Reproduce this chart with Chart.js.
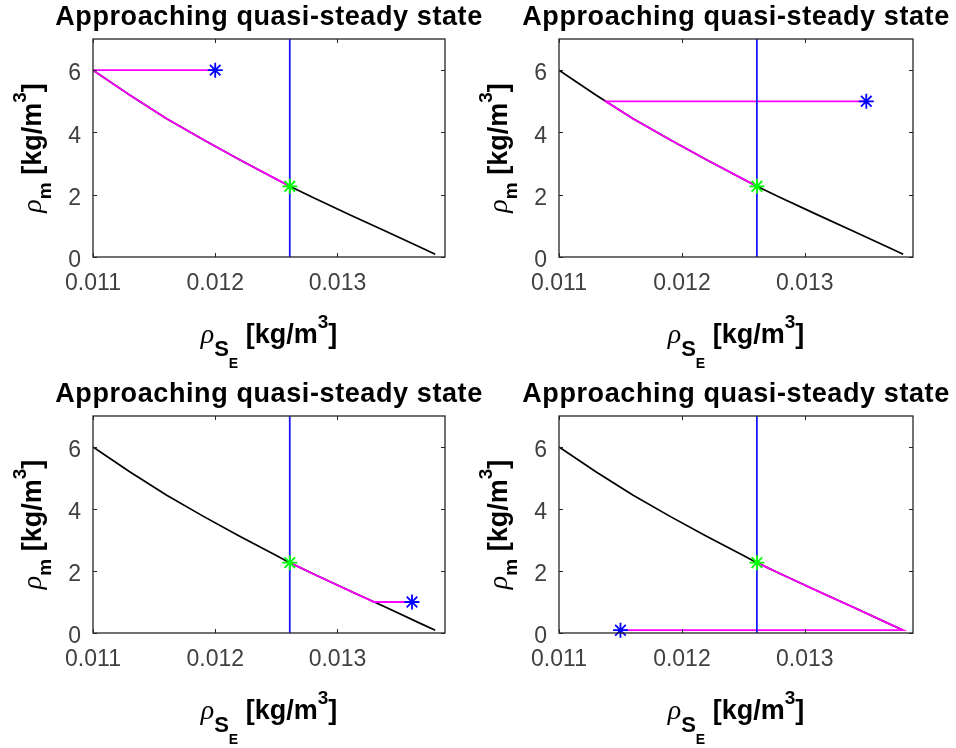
<!DOCTYPE html>
<html>
<head>
<meta charset="utf-8">
<script src="https://cdn.jsdelivr.net/npm/chart.js@4.4.1/dist/chart.umd.min.js"></script>
<style>
body { margin: 0; background: #fff; }
#wrap { position: relative; width: 956px; height: 748px; }
#wrap canvas { position: absolute; left: 0; top: 0; }
</style>
</head>
<body>
<div id="wrap">
  <canvas id="c0" width="956" height="748"></canvas>
  <canvas id="c1" width="956" height="748"></canvas>
  <canvas id="c2" width="956" height="748"></canvas>
  <canvas id="c3" width="956" height="748"></canvas>
</div>
<script>
// --- data ---
var TITLE = 'Approaching quasi-steady state';
var X_MIN = 0.011, X_MAX = 0.01388;
var Y_MIN = 0, Y_MAX = 7;
var X_TICKS = [0.011, 0.012, 0.013];
var X_TICK_LABELS = ['0.011', '0.012', '0.013'];
var Y_TICKS = [0, 2, 4, 6];
var Y_TICK_LABELS = ['0', '2', '4', '6'];

// black curve (rho_m vs rho_SE)
var curveX = [0.011, 0.0113, 0.0116, 0.0119, 0.0122, 0.0125, 0.01261, 0.0128, 0.0131, 0.0134, 0.0137, 0.0138];
var curveY = [6.0, 5.2, 4.45, 3.77, 3.12, 2.5, 2.27, 1.91, 1.36, 0.82, 0.27, 0.09];

// quasi-steady point (green star) and blue vertical line
var steadyX = 0.01261;
var steadyY = 2.27;

// starting points (blue stars), one per panel
var startX = [0.012, 0.0135, 0.01361, 0.0115];
var startY = [6.0, 5.0, 1.0, 0.09];

// magenta trajectories, one per panel
var path1X = [0.012, 0.011, 0.0113, 0.0116, 0.0119, 0.0122, 0.0125, 0.01261];
var path1Y = [6.0, 6.0, 5.2, 4.45, 3.77, 3.12, 2.5, 2.27];
var path2X = [0.0135, 0.01138, 0.0116, 0.0119, 0.0122, 0.0125, 0.01261];
var path2Y = [5.0, 5.0, 4.45, 3.77, 3.12, 2.5, 2.27];
var path3X = [0.01361, 0.0133, 0.0131, 0.0128, 0.01261];
var path3Y = [1.0, 1.0, 1.36, 1.91, 2.27];
var path4X = [0.0115, 0.0138, 0.0137, 0.0134, 0.0131, 0.0128, 0.01261];
var path4Y = [0.09, 0.09, 0.27, 0.82, 1.36, 1.91, 2.27];

var pathsX = [path1X, path2X, path3X, path4X];
var pathsY = [path1Y, path2Y, path3Y, path4Y];

// plot boxes on the page
var boxes = [
  { l: 93,  r: 445, t: 39,  b: 257 },
  { l: 559, r: 913, t: 39,  b: 257 },
  { l: 93,  r: 445, t: 416, b: 633 },
  { l: 559, r: 913, t: 416, b: 633 }
];

var AXIS_COLOR = '#262626';
var MAIN = 'bold 27px "Liberation Sans"';
var SMALL = 'bold 19px "Liberation Sans"';
var RHO = 'italic 28px "Liberation Serif"';

function pts(xs, ys) {
  return xs.map(function (x, i) { return { x: x, y: ys[i] }; });
}

function drawRich(ctx, segs, cx, cy, rotated) {
  ctx.save();
  ctx.translate(cx, cy);
  if (rotated) ctx.rotate(-Math.PI / 2);
  ctx.textAlign = 'left';
  ctx.textBaseline = 'alphabetic';
  ctx.fillStyle = '#000';
  var total = 0;
  segs.forEach(function (s) { ctx.font = s.font; s.w = ctx.measureText(s.text).width; total += s.w; });
  var x = -total / 2;
  segs.forEach(function (s) {
    ctx.font = s.font;
    ctx.fillText(s.text, x, s.dy || 0);
    x += s.w;
  });
  ctx.restore();
}

var axesPlugin = {
  id: 'matlabAxes',
  afterDatasetsDraw: function (chart) {
    var ctx = chart.ctx, a = chart.chartArea;
    var xs = chart.scales.x, ys = chart.scales.y;
    ctx.save();
    ctx.strokeStyle = AXIS_COLOR;
    ctx.lineWidth = 1.3;
    ctx.strokeRect(a.left, a.top, a.right - a.left, a.bottom - a.top);
    // inward ticks on all four sides
    ctx.lineWidth = 1;
    ctx.beginPath();
    X_TICKS.forEach(function (v) {
      var px = Math.round(xs.getPixelForValue(v)) + 0.5;
      ctx.moveTo(px, a.bottom); ctx.lineTo(px, a.bottom - 4);
      ctx.moveTo(px, a.top); ctx.lineTo(px, a.top + 4);
    });
    Y_TICKS.forEach(function (v) {
      var py = Math.round(ys.getPixelForValue(v)) + 0.5;
      ctx.moveTo(a.left, py); ctx.lineTo(a.left + 4, py);
      ctx.moveTo(a.right, py); ctx.lineTo(a.right - 4, py);
    });
    ctx.stroke();
    ctx.restore();
  },
  afterDraw: function (chart) {
    var ctx = chart.ctx, a = chart.chartArea;
    var cx = (a.left + a.right) / 2, cy = (a.top + a.bottom) / 2;
    ctx.save();
    ctx.fillStyle = '#000';
    ctx.font = 'bold 27px "Liberation Sans"';
    ctx.textAlign = 'center';
    ctx.textBaseline = 'alphabetic';
    if ('letterSpacing' in ctx) ctx.letterSpacing = '0.6px';
    ctx.fillText(TITLE, cx, a.top - 14);
    if ('letterSpacing' in ctx) ctx.letterSpacing = '0px';
    ctx.restore();

    drawRich(ctx, [
      { text: '\u03c1', font: RHO },
      { text: 'S', font: 'bold 22px "Liberation Sans"', dy: 13 },
      { text: 'E', font: 'bold 14px "Liberation Sans"', dy: 25 },
      { text: ' [kg/m', font: MAIN },
      { text: '3', font: SMALL, dy: -15 },
      { text: ']', font: MAIN }
    ], cx, a.bottom + 86, false);

    drawRich(ctx, [
      { text: '\u03c1', font: RHO },
      { text: 'm', font: SMALL, dy: 10 },
      { text: ' [kg/m', font: MAIN },
      { text: '3', font: SMALL, dy: -15 },
      { text: ']', font: MAIN }
    ], a.left - 52, cy, true);
  }
};

function makePanel(i) {
  var b = boxes[i];
  var star = function (x, y, color) {
    return {
      data: [{ x: x, y: y }], showLine: false, pointStyle: 'star',
      pointRadius: 7.5, pointBorderWidth: 1.8, pointBorderColor: color,
      pointBackgroundColor: color, clip: false
    };
  };
  var line = function (data, color, w) {
    return {
      data: data, showLine: true, borderColor: color, borderWidth: w,
      pointRadius: 0, tension: 0, fill: false
    };
  };
  new Chart(document.getElementById('c' + i), {
    type: 'scatter',
    data: {
      datasets: [
        star(steadyX, steadyY, '#00ff00'),
        star(startX[i], startY[i], '#0000ff'),
        line(pts([steadyX, steadyX], [Y_MIN, Y_MAX]), '#1a1aff', 1.8),
        line(pts(pathsX[i], pathsY[i]), '#ff00ff', 1.8),
        line(pts(curveX, curveY), '#000000', 1.7)
      ]
    },
    options: {
      responsive: false,
      animation: false,
      devicePixelRatio: 1,
      events: [],
      layout: { padding: { left: b.l - 60, right: 956 - b.r, top: b.t, bottom: 748 - b.b - 40 } },
      plugins: { legend: { display: false }, tooltip: { enabled: false } },
      scales: {
        x: {
          type: 'linear', min: X_MIN, max: X_MAX,
          grid: { display: false, drawTicks: false }, border: { display: false },
          afterBuildTicks: function (s) { s.ticks = X_TICKS.map(function (v) { return { value: v }; }); },
          afterFit: function (s) { s.height = 40; },
          ticks: {
            padding: 13, color: '#404040', maxRotation: 0, autoSkip: false,
            font: { family: 'Liberation Sans', size: 23 },
            callback: function (v, idx) { return X_TICK_LABELS[idx]; }
          }
        },
        y: {
          type: 'linear', min: Y_MIN, max: Y_MAX,
          grid: { display: false, drawTicks: false }, border: { display: false },
          afterBuildTicks: function (s) { s.ticks = Y_TICKS.map(function (v) { return { value: v }; }); },
          afterFit: function (s) { s.width = 60; },
          ticks: {
            padding: 12, labelOffset: 4, color: '#404040', autoSkip: false,
            font: { family: 'Liberation Sans', size: 23 },
            callback: function (v, idx) { return Y_TICK_LABELS[idx]; }
          }
        }
      }
    },
    plugins: [axesPlugin]
  });
}

for (var i = 0; i < 4; i++) makePanel(i);
</script>
</body>
</html>
